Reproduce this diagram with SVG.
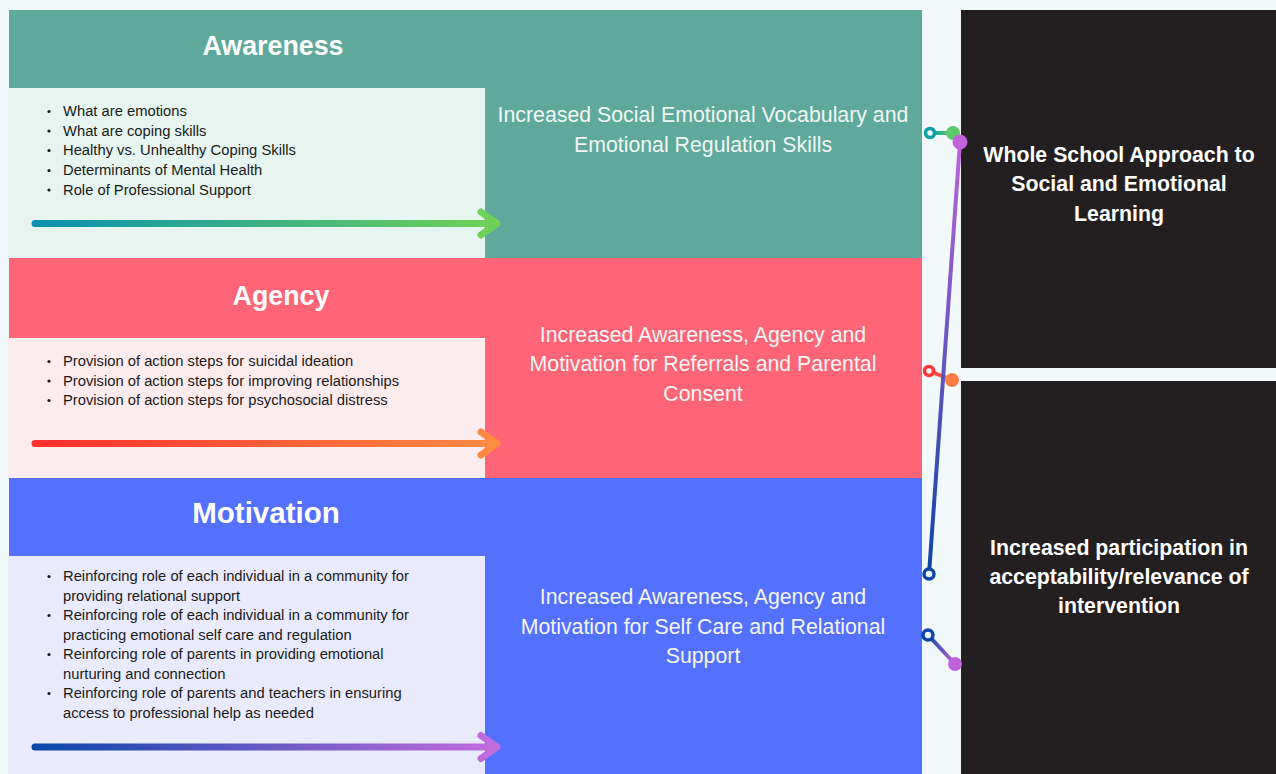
<svg xmlns="http://www.w3.org/2000/svg" width="1276" height="774" viewBox="0 0 1276 774">
  <defs>
    <style>
      .head { font-family: "Liberation Sans", Arial, sans-serif; font-weight: bold; font-size: 26.8px; fill: #ffffff; text-anchor: middle; }
      .item { font-family: "Liberation Sans", Arial, sans-serif; font-size: 14.75px; fill: #1a1a1a; }
      .outcome { font-family: "Liberation Sans", Arial, sans-serif; font-size: 21.3px; fill: #f2f6f5; text-anchor: middle; }
      .goal { font-family: "Liberation Sans", Arial, sans-serif; font-weight: bold; font-size: 21.3px; fill: #ffffff; text-anchor: middle; }
      .flow { fill: none; stroke-width: 7; stroke-linecap: round; stroke-linejoin: round; }
      .link { fill: none; stroke-width: 4; stroke-linecap: round; }
      .open { fill: #f2f9fb; stroke-width: 3.5; }
    </style>
    <linearGradient id="gAware" gradientUnits="userSpaceOnUse" x1="32" y1="0" x2="500" y2="0">
      <stop offset="0" stop-color="#0b90b2"/>
      <stop offset="1" stop-color="#70d355"/>
    </linearGradient>
    <linearGradient id="gAgency" gradientUnits="userSpaceOnUse" x1="32" y1="0" x2="500" y2="0">
      <stop offset="0" stop-color="#ff2e2e"/>
      <stop offset="1" stop-color="#ff8c42"/>
    </linearGradient>
    <linearGradient id="gMotiv" gradientUnits="userSpaceOnUse" x1="32" y1="0" x2="500" y2="0">
      <stop offset="0" stop-color="#0a47a9"/>
      <stop offset="1" stop-color="#c56ce0"/>
    </linearGradient>
    <linearGradient id="gL1" gradientUnits="userSpaceOnUse" x1="930" y1="0" x2="953" y2="0">
      <stop offset="0" stop-color="#0aa0a8"/>
      <stop offset="1" stop-color="#5cc96a"/>
    </linearGradient>
    <linearGradient id="gL2" gradientUnits="userSpaceOnUse" x1="0" y1="142" x2="0" y2="574">
      <stop offset="0" stop-color="#c062dc"/>
      <stop offset="1" stop-color="#0b47a8"/>
    </linearGradient>
    <linearGradient id="gL3" gradientUnits="userSpaceOnUse" x1="929" y1="0" x2="952" y2="0">
      <stop offset="0" stop-color="#ff3434"/>
      <stop offset="1" stop-color="#ff7d45"/>
    </linearGradient>
    <linearGradient id="gL4" gradientUnits="userSpaceOnUse" x1="928" y1="635" x2="955" y2="664">
      <stop offset="0" stop-color="#0b47a8"/>
      <stop offset="1" stop-color="#c062dc"/>
    </linearGradient>
  </defs>

  <!-- page background -->
  <rect x="0" y="0" width="1276" height="774" fill="#f2f9fb"/>

  <!-- Awareness -->
  <g id="awareness">
    <rect x="9" y="10" width="913" height="248" fill="#5ea99b"/>
    <rect x="8" y="88" width="477" height="170" fill="#e6f5f0"/>
    <text class="head" x="273" y="55">Awareness</text>
    <g class="item">
      <text x="63" y="116">What are emotions</text>
      <text x="63" y="135.5">What are coping skills</text>
      <text x="63" y="155">Healthy vs. Unhealthy Coping Skills</text>
      <text x="63" y="175">Determinants of Mental Health</text>
      <text x="63" y="194.5">Role of Professional Support</text>
    </g>
    <g fill="#1a1a1a">
      <circle cx="49" cy="111.5" r="1.6"/>
      <circle cx="49" cy="131" r="1.6"/>
      <circle cx="49" cy="150.5" r="1.6"/>
      <circle cx="49" cy="170.5" r="1.6"/>
      <circle cx="49" cy="190" r="1.6"/>
    </g>
    <path class="flow" stroke="url(#gAware)" d="M35 223.5 H497 M481 212 L497 223.5 L481 235"/>
    <text class="outcome" x="703" y="122">Increased Social Emotional Vocabulary and</text>
    <text class="outcome" x="703" y="152">Emotional Regulation Skills</text>
  </g>

  <!-- Agency -->
  <g id="agency">
    <rect x="9" y="258" width="913" height="220" fill="#ff6577"/>
    <rect x="8" y="338" width="477" height="140" fill="#fdeced"/>
    <text class="head" x="281" y="305">Agency</text>
    <g class="item">
      <text x="63" y="366">Provision of action steps for suicidal ideation</text>
      <text x="63" y="385.5">Provision of action steps for improving relationships</text>
      <text x="63" y="405">Provision of action steps for psychosocial distress</text>
    </g>
    <g fill="#1a1a1a">
      <circle cx="49" cy="361.5" r="1.6"/>
      <circle cx="49" cy="381" r="1.6"/>
      <circle cx="49" cy="400.5" r="1.6"/>
    </g>
    <path class="flow" stroke="url(#gAgency)" d="M35 443.5 H497 M481 432 L497 443.5 L481 455"/>
    <text class="outcome" x="703" y="342">Increased Awareness, Agency and</text>
    <text class="outcome" x="703" y="371">Motivation for Referrals and Parental</text>
    <text class="outcome" x="703" y="401">Consent</text>
  </g>

  <!-- Motivation -->
  <g id="motivation">
    <rect x="9" y="478" width="913" height="296" fill="#5470fe"/>
    <rect x="8" y="556" width="477" height="218" fill="#e9ebfc"/>
    <text class="head" x="266" y="523" style="font-size:29.5px">Motivation</text>
    <g class="item">
      <text x="63" y="581">Reinforcing role of each individual in a community for</text>
      <text x="63" y="600.5">providing relational support</text>
      <text x="63" y="620">Reinforcing role of each individual in a community for</text>
      <text x="63" y="639.5">practicing emotional self care and regulation</text>
      <text x="63" y="659">Reinforcing role of parents in providing emotional</text>
      <text x="63" y="678.5">nurturing and connection</text>
      <text x="63" y="698">Reinforcing role of parents and teachers in ensuring</text>
      <text x="63" y="717.5">access to professional help as needed</text>
    </g>
    <g fill="#1a1a1a">
      <circle cx="49" cy="576.5" r="1.6"/>
      <circle cx="49" cy="615.5" r="1.6"/>
      <circle cx="49" cy="654.5" r="1.6"/>
      <circle cx="49" cy="693.5" r="1.6"/>
    </g>
    <path class="flow" stroke="url(#gMotiv)" d="M35 747 H497 M481 735.5 L497 747 L481 758.5"/>
    <text class="outcome" x="703" y="604">Increased Awareness, Agency and</text>
    <text class="outcome" x="703" y="634">Motivation for Self Care and Relational</text>
    <text class="outcome" x="703" y="663">Support</text>
  </g>

  <!-- Whole School Approach -->
  <g id="whole-school">
    <rect x="961" y="10" width="315" height="358" fill="#231f20"/>
    <text class="goal" x="1119" y="162">Whole School Approach to</text>
    <text class="goal" x="1119" y="191">Social and Emotional</text>
    <text class="goal" x="1119" y="221">Learning</text>
  </g>

  <!-- Participation -->
  <g id="participation">
    <rect x="961" y="381" width="315" height="393" fill="#231f20"/>
    <text class="goal" x="1119" y="555">Increased participation in</text>
    <text class="goal" x="1119" y="584">acceptability/relevance of</text>
    <text class="goal" x="1119" y="613">intervention</text>
  </g>

  <!-- connectors -->
  <g id="connectors">
    <line class="link" stroke="url(#gL1)" x1="930" y1="133" x2="953" y2="133"/>
    <circle class="open" cx="930" cy="133" r="4.5" stroke="#0aa0a8"/>
    <circle cx="953" cy="133" r="7" fill="#5cc96a"/>

    <line class="link" stroke="url(#gL3)" x1="929" y1="371" x2="952" y2="380"/>
    <circle class="open" cx="929" cy="371" r="4.5" stroke="#ff3434"/>
    <circle cx="952" cy="380" r="7" fill="#ff7d45"/>

    <line class="link" stroke="url(#gL2)" x1="960" y1="142" x2="929" y2="574"/>
    <circle cx="960" cy="142" r="7.5" fill="#c062dc"/>
    <circle class="open" cx="929" cy="574" r="5" stroke="#0b47a8"/>

    <line class="link" stroke="url(#gL4)" x1="928" y1="635" x2="955" y2="664"/>
    <circle class="open" cx="928" cy="635" r="5" stroke="#0b47a8"/>
    <circle cx="955" cy="664" r="7" fill="#c062dc"/>
  </g>
</svg>
